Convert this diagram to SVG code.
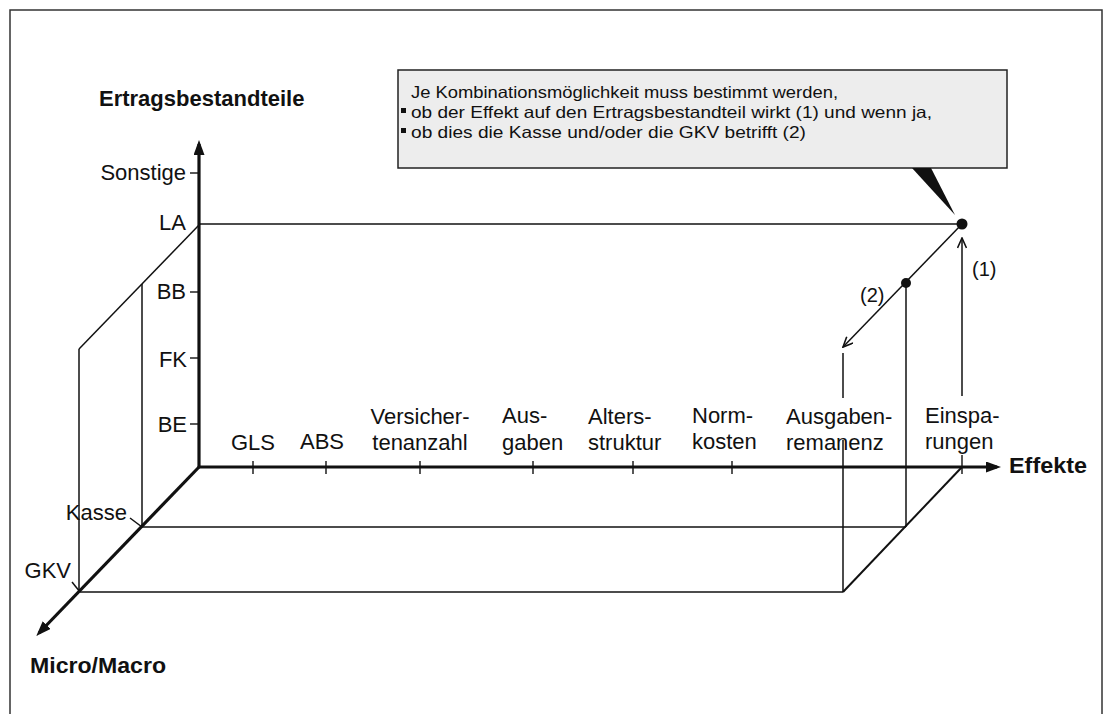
<svg xmlns="http://www.w3.org/2000/svg" width="1103" height="714" viewBox="0 0 1103 714">
<style>
text{font-family:"Liberation Sans",Arial,sans-serif;fill:#111}
.lbl{font-size:22px}
.bold{font-size:22px;font-weight:bold}
.note{font-size:16.5px}
.axis{stroke:#111;stroke-width:3.2;fill:none}
.thin{stroke:#111;stroke-width:1.5;fill:none}
.mid{stroke:#111;stroke-width:2;fill:none}
.tick{stroke:#111;stroke-width:1.4}
</style>
<defs>
<marker id="fill" viewBox="0 0 15 11" refX="11" refY="5.5" markerWidth="15" markerHeight="11" markerUnits="userSpaceOnUse" orient="auto">
<path d="M0,0 L15,5.5 L0,11 z" fill="#111"/>
</marker>
<marker id="open" viewBox="0 0 12 10" refX="11" refY="5" markerWidth="12" markerHeight="10" markerUnits="userSpaceOnUse" orient="auto">
<path d="M1,0.5 L11,5 L1,9.5" fill="none" stroke="#111" stroke-width="1.6"/>
</marker>
</defs>
<rect width="1103" height="714" fill="#fff"/>
<rect x="10" y="10" width="1092" height="720" fill="none" stroke="#333" stroke-width="1.5"/>

<g id="connectors">
<line class="axis" x1="199" y1="468" x2="199" y2="144" marker-end="url(#fill)"/>
<line class="axis" x1="198" y1="467" x2="997" y2="467" marker-end="url(#fill)"/>
<line class="axis" x1="200" y1="466" x2="39" y2="633" marker-end="url(#fill)"/>
<line class="tick" x1="190" y1="173" x2="199" y2="173"/>
<line class="tick" x1="190" y1="292" x2="199" y2="292"/>
<line class="tick" x1="190" y1="358" x2="199" y2="358"/>
<line class="tick" x1="190" y1="424" x2="199" y2="424"/>
<line class="tick" x1="253" y1="461" x2="253" y2="474"/>
<line class="tick" x1="326" y1="461" x2="326" y2="474"/>
<line class="tick" x1="420" y1="461" x2="420" y2="474"/>
<line class="tick" x1="533" y1="461" x2="533" y2="474"/>
<line class="tick" x1="633" y1="461" x2="633" y2="474"/>
<line class="tick" x1="732" y1="461" x2="732" y2="474"/>
<line class="tick" x1="962" y1="455" x2="962" y2="474"/>
<line class="thin" x1="199" y1="224" x2="962" y2="224"/>
<line class="thin" x1="200" y1="224" x2="79" y2="349"/>
<line class="thin" x1="79" y1="349" x2="79" y2="592"/>
<line class="thin" x1="142" y1="284" x2="142" y2="527"/>
<line class="thin" x1="142" y1="527" x2="906" y2="527"/>
<line class="thin" x1="80" y1="592" x2="843" y2="592"/>
<line class="mid" x1="962" y1="467" x2="843" y2="592"/>
<line class="thin" x1="906" y1="283" x2="906" y2="527"/>
<line class="thin" x1="843" y1="353" x2="843" y2="398"/>
<line class="thin" x1="843" y1="440" x2="843" y2="592"/>
<line class="thin" x1="130" y1="518" x2="142" y2="527"/>
<line class="thin" x1="72" y1="582" x2="80" y2="592"/>
<line class="thin" x1="962" y1="396" x2="962" y2="238" marker-end="url(#open)"/>
<line class="thin" x1="962" y1="224" x2="843" y2="347" marker-end="url(#open)"/>
<circle cx="962" cy="224" r="5.5" fill="#111"/>
<circle cx="906" cy="283" r="5" fill="#111"/>
</g>

<g id="callout">
<rect x="398" y="70" width="609" height="98" fill="#ededed" stroke="#222" stroke-width="1.5"/>
<polygon points="912,168 931,168 955,215" fill="#111"/>
<text class="note" x="411" y="98" textLength="427" lengthAdjust="spacingAndGlyphs">Je Kombinationsmöglichkeit muss bestimmt werden,</text>
<rect x="401" y="108" width="5" height="5" fill="#111"/>
<text class="note" x="411" y="118" textLength="521" lengthAdjust="spacingAndGlyphs">ob der Effekt auf den Ertragsbestandteil wirkt (1) und wenn ja,</text>
<rect x="401" y="128" width="5" height="5" fill="#111"/>
<text class="note" x="411" y="138" textLength="395" lengthAdjust="spacingAndGlyphs">ob dies die Kasse und/oder die GKV betrifft (2)</text>
</g>

<g id="axis-ertrag"><text class="bold" x="99" y="106">Ertragsbestandteile</text></g>
<g id="axis-effekte"><text class="bold" x="1009" y="473" textLength="78" lengthAdjust="spacingAndGlyphs">Effekte</text></g>
<g id="axis-micro"><text class="bold" x="30" y="673" textLength="136" lengthAdjust="spacingAndGlyphs">Micro/Macro</text></g>

<g id="y-sonstige"><text class="lbl" x="186" y="180" text-anchor="end">Sonstige</text></g>
<g id="y-la"><text class="lbl" x="186" y="230" text-anchor="end">LA</text></g>
<g id="y-bb"><text class="lbl" x="186" y="299" text-anchor="end">BB</text></g>
<g id="y-fk"><text class="lbl" x="187" y="367" text-anchor="end">FK</text></g>
<g id="y-be"><text class="lbl" x="187" y="432" text-anchor="end">BE</text></g>

<g id="z-kasse"><text class="lbl" x="127" y="520" text-anchor="end">Kasse</text></g>
<g id="z-gkv"><text class="lbl" x="71" y="578" text-anchor="end">GKV</text></g>

<g id="x-gls"><text class="lbl" x="253" y="450" text-anchor="middle">GLS</text></g>
<g id="x-abs"><text class="lbl" x="322" y="449" text-anchor="middle">ABS</text></g>
<g id="x-versicher"><text class="lbl" text-anchor="middle"><tspan x="420" y="424">Versicher-</tspan><tspan x="420" y="450">tenanzahl</tspan></text></g>
<g id="x-ausgaben"><text class="lbl"><tspan x="502" y="423">Aus-</tspan><tspan x="502" y="450">gaben</tspan></text></g>
<g id="x-alters"><text class="lbl"><tspan x="588" y="424">Alters-</tspan><tspan x="588" y="450">struktur</tspan></text></g>
<g id="x-norm"><text class="lbl"><tspan x="692" y="423">Norm-</tspan><tspan x="692" y="449">kosten</tspan></text></g>
<g id="x-remanenz"><text class="lbl"><tspan x="786" y="424">Ausgaben-</tspan><tspan x="786" y="450">remanenz</tspan></text></g>
<g id="x-einsparungen"><text class="lbl"><tspan x="925" y="423">Einspa-</tspan><tspan x="925" y="449">rungen</tspan></text></g>

<g id="label-1"><text class="lbl" x="972" y="276" style="font-size:20px">(1)</text></g>
<g id="label-2"><text class="lbl" x="860" y="302" style="font-size:20px">(2)</text></g>
</svg>
